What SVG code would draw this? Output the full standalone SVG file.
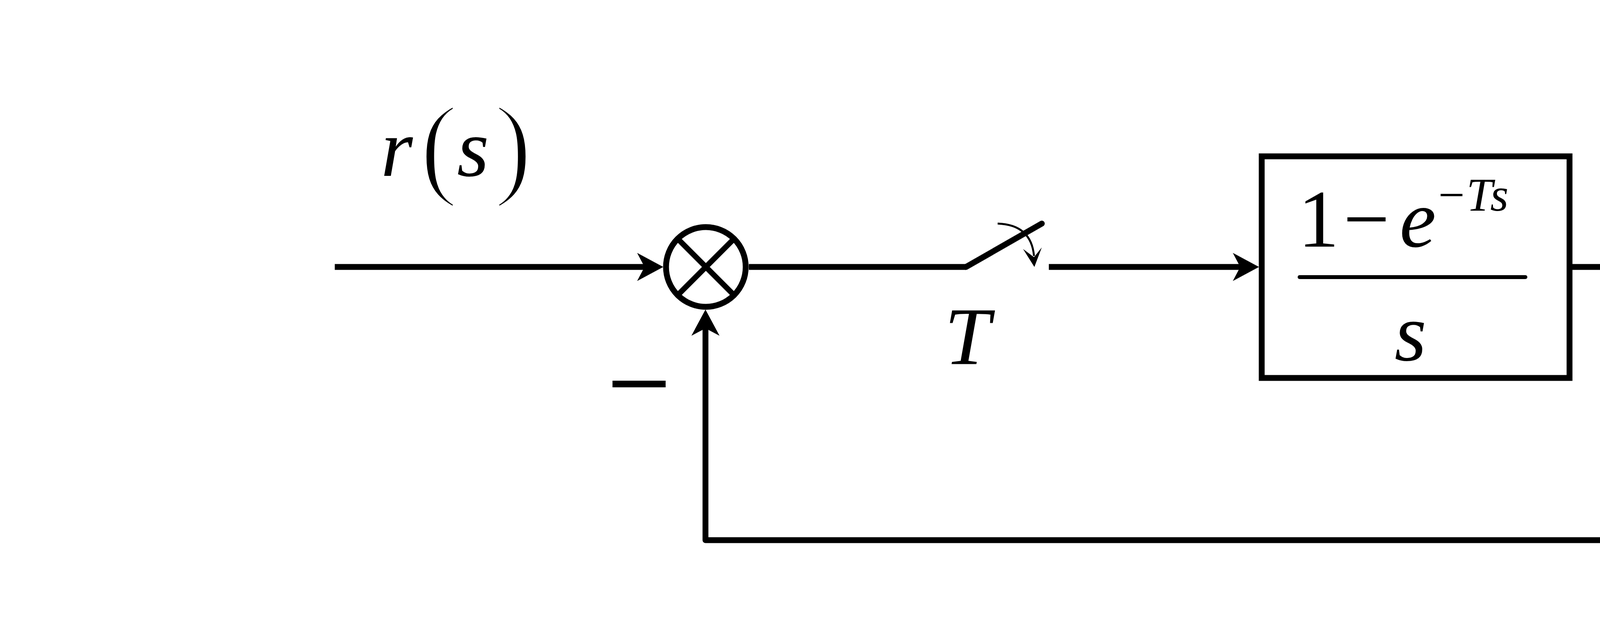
<svg xmlns="http://www.w3.org/2000/svg" width="7467" height="1617" viewBox="0 0 7467 1617">
<style>
.w{fill:none;stroke:#000;stroke-width:15;stroke-linejoin:round}
.box{fill:#fff;stroke:#000;stroke-width:15}
.bar{stroke:#000;stroke-width:10;stroke-linecap:round}
text{font-family:"Liberation Serif","Times New Roman",serif;font-size:210px;fill:#000}
.i{font-style:italic}
.p{font-size:292px;font-style:normal;stroke:#fff;stroke-width:8px}
.sup{font-size:120px}
</style>
<defs>
<marker id="ah" viewBox="-30 -37 70 74" markerWidth="70" markerHeight="74" refX="0" refY="0" orient="auto" markerUnits="userSpaceOnUse">
<path d="M38,0 L-29,-36 L-10,0 L-29,36 Z" fill="#000"/>
</marker>
</defs>
<rect width="7467" height="1617" fill="#fff"/>
<g id="connectors">
<path class="w" d="M857,683 H1660" marker-end="url(#ah)"/>
<path class="w" d="M1917,683 H2473"/>
<path class="w" d="M2685,683 H3185" marker-end="url(#ah)"/>
<path class="w" d="M4025,683 H4631" marker-end="url(#ah)"/>
<path class="w" d="M5471,683 H6412" marker-end="url(#ah)"/>
<path class="w" d="M5809,683 V1382 H1806 V830" marker-end="url(#ah)"/>
</g>
<g id="sum">
<circle cx="1807" cy="683" r="102" fill="#fff" stroke="#000" stroke-width="15"/>
<path d="M1739,615 L1875,751 M1875,615 L1739,751" stroke="#000" stroke-width="14"/>
<text x="1570" y="1018" style="font-family:'Liberation Sans',Arial,sans-serif;font-weight:bold;font-size:132px;stroke:#000;stroke-width:4px">—</text>
</g>
<g id="switch">
<path d="M2473,683 L2667,572" stroke="#000" stroke-width="15" stroke-linecap="round"/>
<path d="M2554,572 Q2640,575 2647,655" fill="none" stroke="#000" stroke-width="5"/>
<path d="M2648,683 L2619,637 L2647,658 L2667,633 Z" fill="#000"/>
<text class="i" x="2418" y="932">T</text>
</g>
<g id="block1">
<rect class="box" x="3230" y="400" width="788" height="567"/>
<text><tspan x="3323" y="631">1</tspan><tspan x="3439" y="631">−</tspan><tspan class="i" x="3583" y="631">e</tspan><tspan class="sup" x="3682" y="539">−</tspan><tspan class="sup i" x="3754" y="539">T</tspan><tspan class="sup i" x="3815" y="539">s</tspan></text>
<line class="bar" x1="3327" y1="709" x2="3905" y2="709"/>
<text class="i" x="3570" y="922">s</text>
</g>
<g id="block2">
<rect class="box" x="4677" y="400" width="786" height="567"/>
<text x="5022" y="578">1</text>
<line class="bar" x1="4731" y1="657" x2="5413" y2="657"/>
<text><tspan class="i" x="4747" y="870">s</tspan><tspan class="p" x="4848" y="891">(</tspan><tspan class="i" x="4940" y="870">s</tspan><tspan x="5064" y="870">+</tspan><tspan x="5217" y="870">2</tspan><tspan class="p" x="5324" y="891">)</tspan></text>
</g>
<g id="label-r">
<text><tspan class="i" x="975" y="450">r</tspan><tspan class="p" x="1075" y="471">(</tspan><tspan class="i" x="1170" y="450">s</tspan><tspan class="p" x="1265" y="471">)</tspan></text>
</g>
<g id="label-u">
<text><tspan class="i" x="4181" y="463">u</tspan><tspan class="p" x="4304" y="483">(</tspan><tspan class="i" x="4393" y="463">s</tspan><tspan class="p" x="4490" y="483">)</tspan></text>
</g>
<g id="label-y">
<text><tspan class="i" x="6187" y="463">y</tspan><tspan class="p" x="6307" y="483">(</tspan><tspan class="i" x="6401" y="463">s</tspan><tspan class="p" x="6496" y="483">)</tspan></text>
</g>
</svg>
